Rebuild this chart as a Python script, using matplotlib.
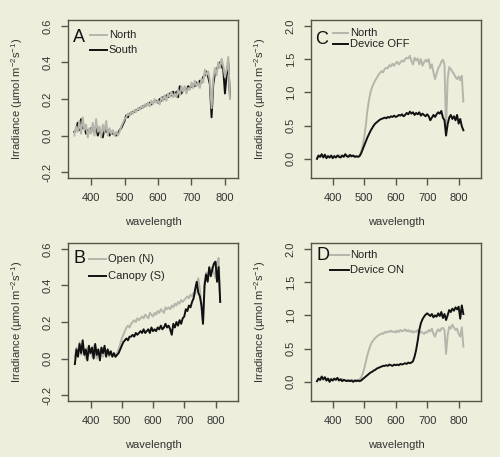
import numpy as np
import matplotlib
matplotlib.use("Agg")
import matplotlib.pyplot as plt

plt.rcParams['font.family'] = ['Liberation Sans', 'DejaVu Sans']
plt.rcParams['mathtext.fontset'] = 'custom'
plt.rcParams['mathtext.rm'] = 'Liberation Sans'
plt.rcParams['mathtext.it'] = 'Liberation Sans:italic'
plt.rcParams['axes.unicode_minus'] = False

# wavelength grid (nm), 350..815 every 5 nm
wavelength = np.arange(350, 816, 5)

A_north = [0.00, 0.05, 0.02, 0.08, 0.01, 0.10, 0.03, 0.06, -0.01, 0.04,
           0.01, 0.07, 0.00, 0.09, 0.02, 0.05, -0.01, 0.06, 0.02, 0.08,
           0.00, 0.04, 0.01, 0.03, 0.00, 0.02, 0.00, 0.02, 0.05, 0.07,
           0.09, 0.10, 0.12, 0.11, 0.13, 0.12, 0.14, 0.13, 0.15, 0.14,
           0.16, 0.15, 0.17, 0.16, 0.18, 0.16, 0.19, 0.17, 0.20, 0.18,
           0.19, 0.17, 0.21, 0.19, 0.22, 0.19, 0.23, 0.21, 0.24, 0.21,
           0.23, 0.21, 0.25, 0.22, 0.27, 0.24, 0.27, 0.23, 0.26, 0.25,
           0.29, 0.26, 0.30, 0.27, 0.29, 0.26, 0.31, 0.29, 0.36, 0.33,
           0.35, 0.30, 0.15, 0.31, 0.37, 0.33, 0.40, 0.37, 0.42, 0.38,
           0.32, 0.36, 0.43, 0.20]
A_south = [0.02, 0.03, 0.07, 0.03, 0.09, 0.04, 0.05, 0.01, 0.03, 0.02,
           0.04, 0.03, 0.02, 0.05, 0.00, 0.03, 0.01, -0.01, 0.04, 0.02,
           0.03, 0.00, 0.02, 0.01, 0.01, 0.00, 0.01, 0.03, 0.04, 0.06,
           0.08, 0.11, 0.10, 0.12, 0.12, 0.13, 0.13, 0.14, 0.14, 0.15,
           0.15, 0.16, 0.16, 0.17, 0.17, 0.18, 0.17, 0.18, 0.19, 0.19,
           0.18, 0.20, 0.19, 0.21, 0.20, 0.22, 0.21, 0.23, 0.22, 0.24,
           0.22, 0.24, 0.21, 0.27, 0.23, 0.25, 0.26, 0.24, 0.27, 0.26,
           0.27, 0.28, 0.27, 0.29, 0.28, 0.30, 0.29, 0.32, 0.33, 0.35,
           0.32, 0.28, 0.10, 0.28, 0.34, 0.36, 0.38, 0.40, 0.38, 0.36,
           0.23, 0.33, 0.40, 0.21]

B_open = [0.01, 0.06, 0.03, 0.09, 0.02, 0.07, 0.04, 0.00, 0.06, 0.02,
          0.05, 0.01, 0.07, 0.03, 0.00, 0.05, 0.02, 0.06, 0.01, 0.04,
          0.02, 0.05, 0.01, 0.03, 0.02, 0.02, 0.01, 0.03, 0.05, 0.08,
          0.11, 0.13, 0.15, 0.17, 0.18, 0.17, 0.19, 0.20, 0.21, 0.20,
          0.22, 0.21, 0.22, 0.23, 0.22, 0.24, 0.23, 0.22, 0.25, 0.24,
          0.23, 0.25, 0.24, 0.26, 0.25, 0.27, 0.26, 0.25, 0.28, 0.27,
          0.28, 0.27, 0.29, 0.28, 0.30, 0.29, 0.31, 0.30, 0.32, 0.31,
          0.32, 0.33, 0.34, 0.33, 0.35, 0.34, 0.36, 0.35, 0.41, 0.44,
          0.38, 0.30, 0.20, 0.42, 0.47, 0.45, 0.49, 0.46, 0.50, 0.47,
          0.44, 0.52, 0.55, 0.31]
B_canopy = [-0.03, 0.05, 0.01, 0.08, 0.03, 0.10, 0.02, 0.05, -0.01, 0.07,
            0.03, 0.06, 0.00, 0.08, 0.02, 0.05, -0.01, 0.06, 0.03, 0.07,
            0.01, 0.05, 0.02, 0.04, 0.01, 0.03, 0.01, 0.02, 0.03, 0.05,
            0.07, 0.09, 0.10, 0.11, 0.10, 0.12, 0.12, 0.13, 0.12, 0.14,
            0.13, 0.14, 0.15, 0.14, 0.16, 0.14, 0.15, 0.16, 0.14, 0.17,
            0.15, 0.16, 0.15, 0.17, 0.16, 0.18, 0.16, 0.17, 0.19, 0.17,
            0.18, 0.16, 0.13, 0.19, 0.17, 0.20, 0.18, 0.21, 0.19, 0.22,
            0.23, 0.27, 0.26, 0.29, 0.28, 0.31, 0.33, 0.38, 0.42, 0.36,
            0.34, 0.29, 0.19, 0.40, 0.46, 0.42, 0.50, 0.45, 0.49, 0.52,
            0.53, 0.42, 0.50, 0.31]

C_north = [0.02, 0.05, 0.03, 0.06, 0.04, 0.07, 0.03, 0.05, 0.02, 0.04,
           0.03, 0.05, 0.02, 0.04, 0.06, 0.03, 0.05, 0.04, 0.06, 0.03,
           0.05, 0.04, 0.03, 0.05, 0.03, 0.04, 0.03, 0.05, 0.10, 0.20,
           0.32, 0.50, 0.72, 0.88, 1.00, 1.08, 1.13, 1.18, 1.22, 1.26,
           1.29, 1.32, 1.30, 1.35, 1.37, 1.36, 1.41, 1.39, 1.43, 1.40,
           1.44, 1.46, 1.42, 1.45, 1.48, 1.46, 1.50, 1.52, 1.51, 1.55,
           1.47, 1.42, 1.52, 1.48, 1.51, 1.42, 1.50, 1.40, 1.45, 1.49,
           1.46, 1.50, 1.36, 1.42, 1.30, 1.20, 1.28, 1.36, 1.40, 1.46,
           1.49, 1.42, 0.45, 1.20, 1.38, 1.35, 1.31, 1.28, 1.23, 1.20,
           1.24, 1.18, 1.25, 0.86]
C_off = [0.00, 0.05, 0.03, 0.07, 0.02, 0.06, 0.01, 0.04, 0.02, 0.05,
         0.01, 0.04, 0.02, 0.05, 0.03, 0.02, 0.05, 0.03, 0.07, 0.04,
         0.03, 0.06, 0.04, 0.05, 0.03, 0.04, 0.03, 0.04, 0.08, 0.14,
         0.20, 0.26, 0.32, 0.37, 0.42, 0.46, 0.50, 0.53, 0.55, 0.57,
         0.59, 0.60, 0.61, 0.62, 0.61, 0.63, 0.62, 0.64, 0.63, 0.65,
         0.63, 0.64, 0.66, 0.65, 0.67, 0.64, 0.66, 0.69, 0.67, 0.71,
         0.68, 0.70, 0.66, 0.69, 0.67, 0.70, 0.65, 0.68, 0.66, 0.64,
         0.67, 0.64, 0.58, 0.62, 0.66, 0.63, 0.67, 0.70, 0.68, 0.72,
         0.62, 0.58, 0.35, 0.52, 0.62, 0.66, 0.60, 0.64, 0.58, 0.66,
         0.53, 0.60, 0.49, 0.43]

D_north = [0.01, 0.04, 0.02, 0.06, 0.03, 0.05, 0.02, 0.04, 0.03, 0.05,
           0.02, 0.04, 0.03, 0.05, 0.02, 0.03, 0.04, 0.02, 0.03, 0.02,
           0.03, 0.02, 0.03, 0.02, 0.02, 0.03, 0.02, 0.04, 0.06, 0.12,
           0.20, 0.30, 0.40, 0.48, 0.55, 0.60, 0.63, 0.66, 0.68, 0.70,
           0.71, 0.73, 0.72, 0.75, 0.74, 0.76, 0.75, 0.77, 0.75, 0.76,
           0.74, 0.77, 0.75, 0.78, 0.76, 0.77, 0.79, 0.76, 0.78, 0.75,
           0.77, 0.74, 0.76, 0.75, 0.78, 0.73, 0.76, 0.74, 0.72, 0.75,
           0.74, 0.78, 0.76, 0.80, 0.72, 0.68, 0.75, 0.79, 0.76, 0.80,
           0.81, 0.78, 0.42, 0.70, 0.83, 0.80, 0.86, 0.82, 0.78, 0.80,
           0.72, 0.68, 0.82, 0.53]
D_on = [0.01, 0.05, 0.03, 0.08, 0.04, 0.07, 0.02, 0.05, 0.00, 0.04,
        0.02, 0.05, 0.03, 0.06, 0.02, 0.04, 0.01, 0.03, 0.02, 0.01,
        0.02, 0.01, 0.02, 0.00, 0.02, 0.01, 0.02, 0.01, 0.02, 0.04,
        0.06, 0.08, 0.10, 0.12, 0.14, 0.15, 0.17, 0.18, 0.20, 0.21,
        0.22, 0.23, 0.24, 0.24, 0.25, 0.24, 0.26, 0.25, 0.24, 0.26,
        0.25, 0.26, 0.25, 0.27, 0.26, 0.27, 0.28, 0.27, 0.29, 0.28,
        0.29, 0.31, 0.38, 0.48, 0.62, 0.78, 0.88, 0.94, 0.98, 1.01,
        1.03, 1.01, 0.99, 1.02, 0.97, 1.00, 0.98, 1.03, 0.99, 1.05,
        0.96, 1.02, 0.93, 1.00, 1.08, 1.05, 1.10, 1.07, 1.12, 1.09,
        1.13, 0.95, 1.15, 1.02]

x_ticks = [400, 500, 600, 700, 800]
y_ticks_small = [-0.2, 0.0, 0.2, 0.4, 0.6]
y_ticks_big = [0.0, 0.5, 1.0, 1.5, 2.0]

BG = '#eeeedc'
FRAME = '#55554a'
GREY = '#b5b5ab'
BLACK = '#111111'

fig = plt.figure(figsize=(5.0, 4.57), dpi=100, facecolor=BG)
W, H = 500.0, 457.0

def make_ax(left, top, width=170, height=158):
    return fig.add_axes([left / W, 1 - (top + height) / H, width / W, height / H])

panels = [
    (68, 20, 'A', A_north, A_south, ('North', 'South'), (331, 839), (-0.232, 0.632),
     y_ticks_small, True, dict(lx=(0.129, 0.229), tx=0.241, ys=(0.905, 0.81), ly=0.889, lx0=0.03)),
    (311, 20, 'C', C_north, C_off, ('North', 'Device OFF'), (331, 871), (-0.288, 2.088),
     y_ticks_big, False, dict(lx=(0.129, 0.218), tx=0.229, ys=(0.92, 0.846), ly=0.875, lx0=0.024)),
    (68, 243, 'B', B_open, B_canopy, ('Open (N)', 'Canopy (S)'), (328, 872), (-0.232, 0.632),
     y_ticks_small, False, dict(lx=(0.124, 0.224), tx=0.235, ys=(0.90, 0.79), ly=0.899, lx0=0.035)),
    (311, 243, 'D', D_north, D_on, ('North', 'Device ON'), (331, 871), (-0.288, 2.088),
     y_ticks_big, False, dict(lx=(0.112, 0.224), tx=0.229, ys=(0.926, 0.831), ly=0.92, lx0=0.03)),
]

for left, top, letter, gser, bser, labels, xlim, ylim, yticks, grey_top, lg in panels:
    ax = make_ax(left, top)
    ax.set_facecolor(BG)
    if grey_top:
        ax.plot(wavelength, bser, color=BLACK, lw=1.4, zorder=2)
        ax.plot(wavelength, gser, color=GREY, lw=1.4, zorder=3)
    else:
        ax.plot(wavelength, gser, color=GREY, lw=1.4, zorder=2)
        ax.plot(wavelength, bser, color=BLACK, lw=1.4, zorder=3)
    ax.set_xlim(*xlim)
    ax.set_ylim(*ylim)
    ax.set_xticks(x_ticks)
    ax.set_yticks(yticks)
    ax.set_yticklabels(['%.1f' % v for v in yticks], rotation=90, va='center')
    for sp in ax.spines.values():
        sp.set_color(FRAME)
        sp.set_linewidth(1.0)
    ax.tick_params(axis='both', length=5, width=1.0, color=FRAME, labelsize=8,
                   labelcolor='#333333', pad=6)
    ax.set_xlabel('wavelength', fontsize=8, color='#333333')
    ax.set_ylabel('Irradiance (µmol m$^{-2}$s$^{-1}$)', fontsize=8, color='#333333')
    ax.xaxis.set_label_coords(0.5, -0.245)
    ax.yaxis.set_label_coords(-0.25, 0.5)
    ax.text(lg['lx0'], lg['ly'], letter, transform=ax.transAxes, fontsize=13,
            color='#111111', ha='left', va='center')
    for col, lab, yy in zip((GREY, BLACK), labels, lg['ys']):
        ax.plot(lg['lx'], [yy, yy], transform=ax.transAxes, color=col, lw=1.4,
                clip_on=False, zorder=4)
        ax.text(lg['tx'], yy, lab, transform=ax.transAxes, fontsize=8,
                color='#222222', ha='left', va='center')

fig.savefig('out.png', dpi=100, facecolor=BG)
